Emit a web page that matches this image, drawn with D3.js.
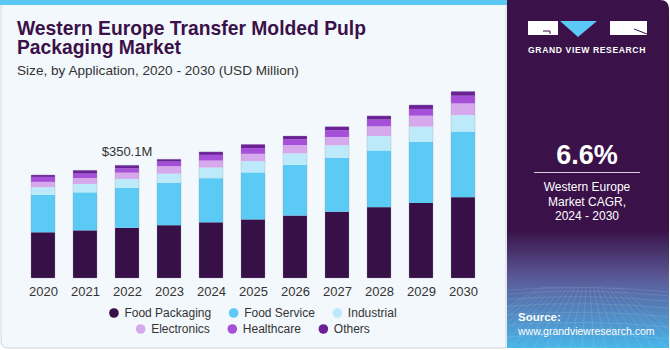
<!DOCTYPE html>
<html lang="en">
<head>
<meta charset="UTF-8">
<title>Western Europe Transfer Molded Pulp Packaging Market</title>
<script src="https://d3js.org/d3.v7.min.js"></script>
<style>
  body { margin: 0; background: #ffffff; }
  text { font-family: "Liberation Sans", Arial, sans-serif; }
</style>
</head>
<body>
<svg id="chart" width="670" height="350"></svg>
<script>
// data (USD Million)
var years = ["2020", "2021", "2022", "2023", "2024", "2025", "2026", "2027", "2028", "2029", "2030"];
var segments = ["Food Packaging", "Food Service", "Industrial", "Electronics", "Healthcare", "Others"];
var foodPackaging = [142, 148, 156, 164, 173, 182, 194, 206, 220, 233, 251];
var foodService   = [116, 118, 124, 132, 137, 146, 157, 167, 176, 190, 204];
var industrial    = [24, 26, 27.5, 28, 33, 35, 36, 39, 45, 47, 51];
var electronics   = [16.5, 18.5, 19.6, 23, 21.7, 22.7, 26, 26, 30, 34, 36];
var healthcare    = [15.5, 13.5, 13.7, 14.3, 17.7, 17.7, 17.4, 21, 21, 21, 24];
var others        = [6, 10.5, 9.3, 7.5, 9.3, 11.5, 10.6, 11, 11.5, 12.4, 13.4];
var colors = ["#371047", "#5bcaf5", "#bdeafb", "#d6a9ed", "#a64fd9", "#6b2196"];
var highlightYear = "2022";
var highlightLabel = "$350.1M";

var svg = d3.select("#chart");

// card background
svg.append("path")
   .attr("d", "M1,4 H506 V348 H8 Q1,348 1,341 Z")
   .attr("fill", "#f3f8fc")
   .attr("stroke", "#d0d4d8")
   .attr("stroke-width", 1);
svg.append("rect").attr("x", 0).attr("y", 0).attr("width", 507).attr("height", 5).attr("fill", "#5bc8f5");

// right panel
var defs = svg.append("defs");
var grad = defs.append("linearGradient").attr("id", "panelGrad").attr("x1", 0).attr("y1", 0).attr("x2", 0).attr("y2", 1);
grad.append("stop").attr("offset", "0").attr("stop-color", "#3a1148");
grad.append("stop").attr("offset", "0.66").attr("stop-color", "#3a1148");
grad.append("stop").attr("offset", "0.8").attr("stop-color", "#5a5a98");
grad.append("stop").attr("offset", "1").attr("stop-color", "#49b6ea");
svg.append("path")
   .attr("d", "M507,0 H660 Q669,0 669,9 V348 H507 Z")
   .attr("fill", "url(#panelGrad)");

// faint grid in the lower panel
var grid = svg.append("g").attr("stroke", "#ffffff").attr("stroke-opacity", 0.16).attr("stroke-width", 0.7).attr("fill", "none");
d3.range(0, 9).forEach(function(i) {
  var y = 290 + i * i * 0.8 + i * 3;
  grid.append("path").attr("d", "M507," + y + " Q588," + (y - 6) + " 669," + (y + 2));
});
d3.range(-6, 16).forEach(function(i) {
  var x = 510 + i * 12;
  grid.append("line").attr("x1", 588 + (x - 588) * 0.3).attr("y1", 286).attr("x2", x).attr("y2", 348);
});

// logo
var logo = svg.append("g");
logo.append("rect").attr("x", 528).attr("y", 21).attr("width", 30).attr("height", 14).attr("fill", "#ffffff");
logo.append("path").attr("d", "M543,31 H550 V34").attr("stroke", "#3a1148").attr("stroke-width", 1).attr("fill", "none");
logo.append("path").attr("d", "M560,21 H597 L578,37 Z").attr("fill", "#5bc8f5");
logo.append("rect").attr("x", 610).attr("y", 21).attr("width", 37).attr("height", 14).attr("fill", "#ffffff");
logo.append("path").attr("d", "M634,29 L647,34").attr("stroke", "#3a1148").attr("stroke-width", 1);
logo.append("text").attr("x", 587).attr("y", 53).attr("text-anchor", "middle")
   .attr("fill", "#ffffff").attr("font-size", 8.6).attr("font-weight", "bold").attr("letter-spacing", 0.6)
   .text("GRAND VIEW RESEARCH");

// CAGR block
svg.append("text").attr("x", 587).attr("y", 164).attr("text-anchor", "middle")
   .attr("fill", "#ffffff").attr("font-size", 27).attr("font-weight", "bold").text("6.6%");
svg.append("line").attr("x1", 534).attr("x2", 640).attr("y1", 172.5).attr("y2", 172.5)
   .attr("stroke", "#ffffff").attr("stroke-opacity", 0.8).attr("stroke-width", 1);
["Western Europe", "Market CAGR,", "2024 - 2030"].forEach(function(t, i) {
  svg.append("text").attr("x", 587).attr("y", 191 + i * 14.5).attr("text-anchor", "middle")
     .attr("fill", "#ffffff").attr("font-size", 12).text(t);
});
svg.append("text").attr("x", 518).attr("y", 321).attr("fill", "#ffffff")
   .attr("font-size", 11.5).attr("font-weight", "bold").text("Source:");
svg.append("text").attr("x", 518).attr("y", 335).attr("fill", "#ffffff")
   .attr("font-size", 10.5).text("www.grandviewresearch.com");

// titles
svg.append("text").attr("x", 17).attr("y", 35).attr("fill", "#3a1148")
   .attr("font-size", 19.3).attr("font-weight", "bold").text("Western Europe Transfer Molded Pulp");
svg.append("text").attr("x", 17).attr("y", 54).attr("fill", "#3a1148")
   .attr("font-size", 19.3).attr("font-weight", "bold").text("Packaging Market");
svg.append("text").attr("x", 17).attr("y", 75).attr("fill", "#333333")
   .attr("font-size", 13.6).text("Size, by Application, 2020 - 2030 (USD Million)");

// stacked bars
var rows = years.map(function(y, i) {
  return {
    year: y,
    "Food Packaging": foodPackaging[i],
    "Food Service": foodService[i],
    "Industrial": industrial[i],
    "Electronics": electronics[i],
    "Healthcare": healthcare[i],
    "Others": others[i]
  };
});
var stack = d3.stack().keys(segments)(rows);

var x = d3.scalePoint().domain(years).range([43, 463]);
var y = d3.scaleLinear().domain([0, 600]).range([278, 84.8]);
var color = d3.scaleOrdinal().domain(segments).range(colors);
var barW = 24;

var layers = svg.append("g").selectAll("g")
   .data(stack)
   .enter().append("g")
   .attr("fill", function(d) { return color(d.key); });

layers.selectAll("rect")
   .data(function(d) { return d; })
   .enter().append("rect")
   .attr("x", function(d) { return x(d.data.year) - barW / 2; })
   .attr("y", function(d) { return y(d[1]); })
   .attr("width", barW)
   .attr("height", function(d) { return y(d[0]) - y(d[1]); });

// thin outline round each bar
svg.append("g").selectAll("rect")
   .data(stack[stack.length - 1])
   .enter().append("rect")
   .attr("x", function(d) { return x(d.data.year) - barW / 2; })
   .attr("y", function(d) { return y(d[1]); })
   .attr("width", barW)
   .attr("height", function(d) { return y(0) - y(d[1]); })
   .attr("rx", 1.5)
   .attr("fill", "none")
   .attr("stroke", "#9a92a8")
   .attr("stroke-opacity", 0.35)
   .attr("stroke-width", 0.8);

// value label
var hi = years.indexOf(highlightYear);
svg.append("text")
   .attr("x", x(highlightYear))
   .attr("y", y(stack[stack.length - 1][hi][1]) - 9)
   .attr("text-anchor", "middle")
   .attr("fill", "#333333")
   .attr("font-size", 13)
   .text(highlightLabel);

// x axis labels
var xAxis = svg.append("g")
   .attr("transform", "translate(0,278)")
   .call(d3.axisBottom(x).tickSize(0).tickPadding(9));
xAxis.select(".domain").remove();
xAxis.selectAll("text").attr("font-size", 13).attr("fill", "#333333")
   .attr("font-family", "'Liberation Sans', Arial, sans-serif");

// legend, two centered rows
var legendRows = [segments.slice(0, 3), segments.slice(3)];
var legendY = [313, 329];
legendRows.forEach(function(items, r) {
  var g = svg.append("g");
  var cx = 0;
  items.forEach(function(name) {
    var item = g.append("g").attr("transform", "translate(" + cx + ",0)");
    item.append("circle").attr("cx", 4.5).attr("cy", 0).attr("r", 4.8).attr("fill", color(name));
    var t = item.append("text").attr("x", 15).attr("y", 4.3).attr("font-size", 12).attr("fill", "#333333").text(name);
    cx += 15 + t.node().getComputedTextLength() + 18;
  });
  var total = cx - 18;
  g.attr("transform", "translate(" + (253 - total / 2) + "," + legendY[r] + ")");
});
</script>
</body>
</html>
